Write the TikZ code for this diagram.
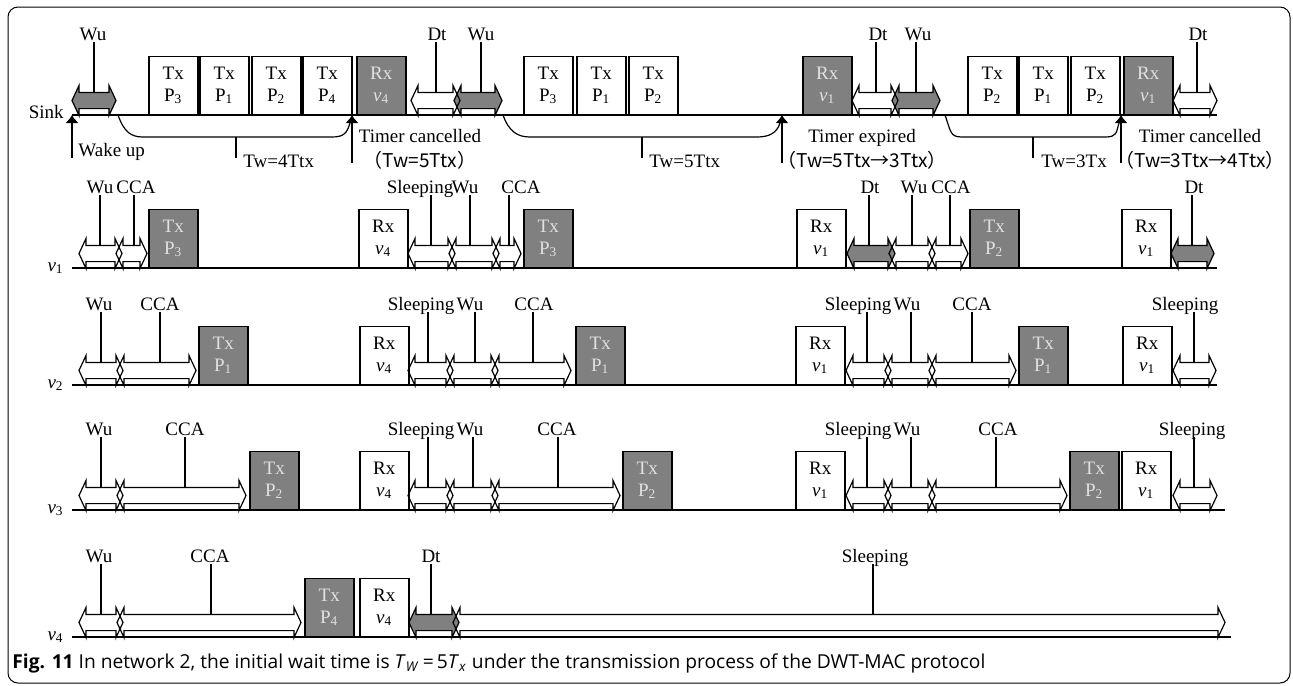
\documentclass[tikz,border=0pt]{standalone}
\usepackage{fontspec}
\setmainfont{Liberation Serif}
\newfontfamily\capfont{Open Sans}
\newfontfamily\cjk{Noto Sans CJK SC}
\usetikzlibrary{calc,arrows.meta,shapes.arrows}
\definecolor{SlotGray}{RGB}{128,128,128}
\definecolor{SlotText}{RGB}{225,225,225}
\newcommand{\pidx}[1]{P\textsubscript{#1}}
\newcommand{\vidx}[1]{\textit{v}\textsubscript{#1}}
\tikzset{
    timeline/.style={line width=0.8pt},
    slot/.style={draw=black,line width=0.75pt,minimum width=24.5pt,minimum height=29pt,inner sep=0pt,align=center,anchor=south west,font=\fontsize{9.5}{11}\selectfont},
    wslot/.style={slot,fill=white},
    gslot/.style={slot,fill=SlotGray,text=SlotText},
    warr/.style={double arrow,draw=black,line width=0.6pt,inner xsep=0pt,inner ysep=3.75pt,double arrow head extend=3.5pt,double arrow tip angle=130,outer sep=0pt},
    garr/.style={warr,fill=SlotGray},
    statelbl/.style={inner sep=1pt,text depth=0pt,anchor=base},
    leader/.style={line width=0.6pt},
    timer/.style={line width=0.6pt,-{Latex[length=4pt,width=6.5pt]}},
    waitcurve/.style={line width=0.6pt}
}

\begin{document}
\begin{tikzpicture}[x=0.5pt,y=-0.5pt,font=\fontsize{9.5}{11}\selectfont]
\useasboundingbox (0,0) rectangle (1293,685);
\draw[line width=0.5pt,rounded corners=5pt] (8,7) rectangle (1290,683);

				% time lines
				\foreach \nm/\rowlab/\yb/\xe in {sink/Sink/115/1217, n1/\vidx{1}/268/1217, n2/\vidx{2}/385/1217, n3/\vidx{3}/510/1225, n4/\vidx{4}/637/1231}{
					\coordinate (\nm-a) at (72,\yb);
					\coordinate (\nm-b) at (\xe,\yb);
					\node[anchor=base east,inner sep=1pt] (\nm-lab) at (66,\yb+3) {\rowlab};
					\draw[timeline] (\nm-a) -- (\nm-b);
				}
				
				% slots
				\foreach \yb/\slots in {
					115/{sTxA/148/wslot/Tx/\pidx{3}, sTxB/199/wslot/Tx/\pidx{1}, sTxC/251/wslot/Tx/\pidx{2}, sTxD/302/wslot/Tx/\pidx{4}, sRxA/356/gslot/Rx/\vidx{4},
						sTxE/523/wslot/Tx/\pidx{3}, sTxF/576/wslot/Tx/\pidx{1}, sTxG/628/wslot/Tx/\pidx{2}, sRxB/802/gslot/Rx/\vidx{1},
						sTxH/967/wslot/Tx/\pidx{2}, sTxI/1018/wslot/Tx/\pidx{1}, sTxJ/1070/wslot/Tx/\pidx{2}, sRxC/1123/gslot/Rx/\vidx{1}},
					268/{aTxA/148/gslot/Tx/\pidx{3}, aRxA/358/wslot/Rx/\vidx{4}, aTxB/523/gslot/Tx/\pidx{3}, aRxB/796/wslot/Rx/\vidx{1}, aTxC/969/gslot/Tx/\pidx{2}, aRxC/1121/wslot/Rx/\vidx{1}},
					385/{bTxA/198/gslot/Tx/\pidx{1}, bRxA/359/wslot/Rx/\vidx{4}, bTxB/575/gslot/Tx/\pidx{1}, bRxB/795/wslot/Rx/\vidx{1}, bTxC/1018/gslot/Tx/\pidx{1}, bRxC/1122/wslot/Rx/\vidx{1}},
					510/{cTxA/249/gslot/Tx/\pidx{2}, cRxA/359/wslot/Rx/\vidx{4}, cTxB/622/gslot/Tx/\pidx{2}, cRxB/795/wslot/Rx/\vidx{1}, cTxC/1069/gslot/Tx/\pidx{2}, cRxC/1121/wslot/Rx/\vidx{1}},
					637/{dTxA/304/gslot/Tx/\pidx{4}, dRxA/359/wslot/Rx/\vidx{4}}}{
					\foreach \nm/\xa/\st/\lineA/\lineB in \slots {
						\node[\st] (\nm) at (\xa,\yb) {\lineA\\\lineB};
					}
				}
				
				% state arrows with their labels
				\foreach \yb/\arrs in {
					115/{sWuA/72/116/garr/Wu/93/94, sWuB/454/502/garr/Wu/481/481, sWuC/892/940/garr/Wu/918/916,
						sDtA/411/460/warr/Dt/437/436, sDtB/852/898/warr/Dt/878/876, sDtC/1173/1217/warr/Dt/1198/1197},
					268/{aDtA/847/895/garr/Dt/870/869, aDtB/1171/1214/garr/Dt/1194/1192,
						aWuA/79/122/warr/Wu/100/100, aCcA/116/147/warr/CCA/136/134,
						aSlA/408/455/warr/Sleeping/420/431, aWuB/449/499/warr/Wu/465/470, aCcB/493/521/warr/CCA/521/509,
						aWuC/889/935/warr/Wu/914/912, aCcC/929/968/warr/CCA/951/950},
					385/{bWuA/79/123/warr/Wu/99/101, bCcA/117/196/warr/CCA/160/160,
						bSlA/408/453/warr/Sleeping/421/428, bWuB/447/498/warr/Wu/470/475, bCcB/492/571/warr/CCA/534/533,
						bSlB/846/891/warr/Sleeping/858/867, bWuC/885/935/warr/Wu/907/911, bCcC/929/1016/warr/CCA/972/972,
						bSlC/1173/1216/warr/Sleeping/1185/1194},
					510/{cWuA/79/123/warr/Wu/99/101, cCcA/117/246/warr/CCA/185/185,
						cSlA/408/453/warr/Sleeping/421/428, cWuB/447/498/warr/Wu/470/473, cCcB/492/620/warr/CCA/557/558,
						cSlB/846/891/warr/Sleeping/858/867, cWuC/885/935/warr/Wu/907/911, cCcC/929/1067/warr/CCA/998/996,
						cSlC/1173/1217/warr/Sleeping/1192/1194},
					637/{dDtA/409/459/garr/Dt/431/431, dWuA/79/123/warr/Wu/99/101, dCcA/117/301/warr/CCA/210/211,
						dSlA/453/1225/warr/Sleeping/875/873}}{
					\foreach \nm/\xa/\xb/\st/\txt/\lx/\kx in \arrs {
						\node[\st,minimum height={(\xb-\xa)*0.5pt}] (\nm) at ({(\xa+\xb)/2},\yb-14.5) {};
						\coordinate (\nm-top) at (\kx,\yb-22);
						\node[statelbl] (\nm-lab) at (\lx,\yb-75) {\txt};
						\draw[leader] (\nm-top |- \nm-lab.south) -- (\nm-top);
					}
				}
				
				% wait timers of the sink
				\foreach \i/\xs/\xl/\xr/\xt/\xk in {1/118/143/332/352/236, 2/503/530/757/782/642, 3/945/962/1105/1121/1033}{
					\coordinate (ws\i) at (\xs,115);
					\coordinate (wl\i) at (\xl,137);
					\coordinate (wr\i) at (\xr,137);
					\coordinate (wt\i) at (\xt,115);
					\coordinate (we\i) at (\xt-2,123);
					\coordinate (wb\i) at (\xt,163);
					\coordinate (wk\i) at (\xk,137);
					\draw[waitcurve] (ws\i) .. controls +(6,17) and +(-12,0) .. (wl\i) -- (wr\i) .. controls +(12,0) and +(-3,10) .. (we\i);
					\draw[timer] (wb\i) -- (wt\i);
					\draw[waitcurve] (wk\i) -- ++(0,21);
				}
				\coordinate (wakeb) at (72,158);
				\coordinate (waket) at (72,115);
				\draw[timer] (wakeb) -- (waket);
				
				% labels
				\node[anchor=base west,inner sep=0pt] (wake) at (78,156) {Wake up};
				\node[anchor=base west,inner sep=0pt] (tw1) at (243,167) {Tw=4Ttx};
				\node[anchor=base west,inner sep=0pt] (tw2) at (649,167) {Tw=5Ttx};
				\node[anchor=base west,inner sep=0pt] (tw3) at (1041,167) {Tw=3Tx};
				\node[anchor=base,inner sep=0pt] (tc1) at (420,142) {Timer cancelled};
				\node[anchor=base,inner sep=0pt] (tv1) at (420,167) {\cjk{（}Tw=5Ttx\cjk{）}};
				\node[anchor=base,inner sep=0pt] (tc2) at (862,142) {Timer expired};
				\node[anchor=base,inner sep=0pt] (tv2) at (862,167) {\cjk{（}Tw=5Ttx\cjk{→}3Ttx\cjk{）}};
				\node[anchor=base,inner sep=0pt] (tc3) at (1200,142) {Timer cancelled};
				\node[anchor=base,inner sep=0pt] (tv3) at (1200,167) {\cjk{（}Tw=3Ttx\cjk{→}4Ttx\cjk{）}};
				\node[anchor=base west,inner sep=0pt,font=\capfont\fontsize{9.6}{11}\selectfont] (caption) at (12,668)
					{\textbf{Fig. 11} In network 2, the initial wait time is \textit{T}\textsubscript{\textit{W}}\,=\,5\textit{T}\textsubscript{\textit{x}} under the transmission process of the DWT-MAC protocol};
\end{tikzpicture}
\end{document}
